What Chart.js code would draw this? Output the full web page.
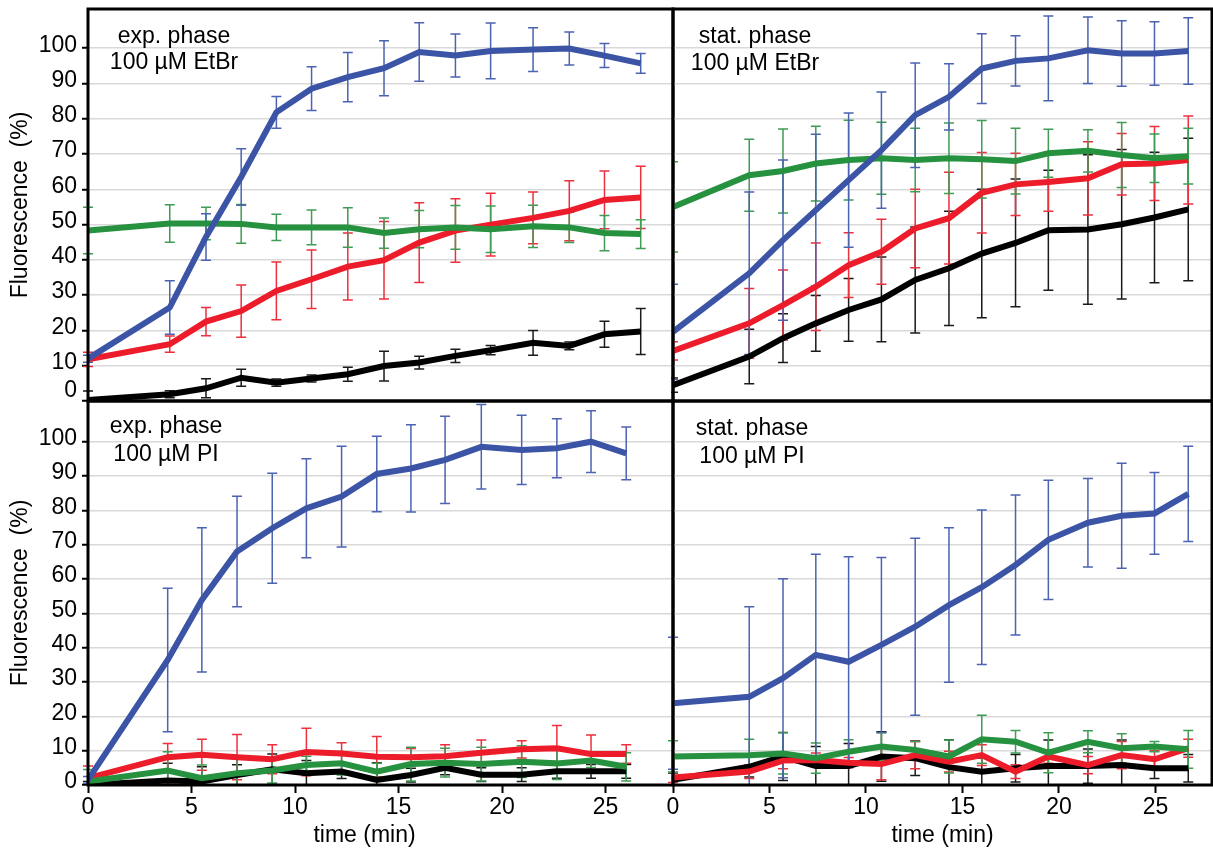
<!DOCTYPE html>
<html>
<head>
<meta charset="utf-8">
<script src="https://cdn.jsdelivr.net/npm/chart.js@4.4.1/dist/chart.umd.min.js"></script>
<style>
  body { margin: 0; background: #fff; width: 1213px; height: 849px; position: relative; overflow: hidden; }
  canvas { position: absolute; }
</style>
</head>
<body>
<canvas id="tl" width="675" height="403" style="left:0;top:0"></canvas>
<canvas id="tr" width="542" height="403" style="left:671px;top:0"></canvas>
<canvas id="bl" width="675" height="454" style="left:0;top:395px"></canvas>
<canvas id="br" width="562" height="454" style="left:651px;top:395px"></canvas>
<script>
// time points (min)
const timesA = [0, 3.95, 5.7, 7.4, 9.1, 10.8, 12.55, 14.3, 16.0, 17.75, 19.45, 21.5, 23.25, 24.95, 26.7];
const timesB = [0, 3.85, 5.5, 7.2, 8.9, 10.55, 12.25, 13.95, 15.6, 17.25, 19.0, 20.95, 22.65, 24.3, 26.0];

// exp. phase, 100 µM EtBr
const expEtBrBlue  = [12, 26.5, 46.5, 63.5, 81.8, 88.5, 91.8, 94.3, 98.9, 97.9, 99.2, 99.6, 99.9, 97.9, 95.7];
const expEtBrBlueErr  = [1, 7.6, 6.6, 8, 4.5, 6.2, 7, 7.8, 8.3, 6.1, 7.9, 6.2, 4.7, 3.4, 2.8];
const expEtBrGreen = [48.3, 50.3, 50.3, 50.2, 49.2, 49.2, 49.2, 47.6, 48.7, 49.2, 48.7, 49.5, 49.2, 47.6, 47.3];
const expEtBrGreenErr = [6.6, 5.3, 4.6, 5.5, 3.7, 4.9, 5.6, 4.3, 5.3, 6.2, 6.6, 6, 4.3, 5, 4.1];
const expEtBrRed   = [11.8, 16.1, 22.5, 25.5, 31.2, 34.5, 38.1, 39.9, 44.9, 48.3, 50, 51.9, 53.9, 57, 57.7];
const expEtBrRedErr   = [2, 2.3, 4, 7.4, 8.2, 8.3, 9.5, 11, 11.3, 9, 8.9, 7.3, 8.5, 8.2, 8.8];
const expEtBrBlack = [0.3, 1.9, 3.6, 6.6, 5.2, 6.4, 7.6, 9.9, 10.9, 12.8, 14.4, 16.5, 15.6, 18.9, 19.7];
const expEtBrBlackErr = [2.5, 1, 2.7, 2.4, 1, 1, 2, 4.2, 1.8, 1.9, 1.3, 3.5, 1.1, 3.7, 6.5];

// stat. phase, 100 µM EtBr
const statEtBrBlue  = [19.6, 36.2, 45.6, 54.1, 62.6, 71.1, 81, 86.2, 94.2, 96.4, 97.1, 99.4, 98.5, 98.5, 99.2];
const statEtBrBlueErr  = [13.5, 23, 22.7, 21.5, 19, 16.5, 14.8, 9.4, 9.9, 7.1, 12, 9.4, 9.3, 9, 9.4];
const statEtBrGreen = [55, 64, 65.2, 67.3, 68.3, 68.8, 68.3, 68.8, 68.5, 68, 70.2, 70.9, 69.7, 68.8, 69.4];
const statEtBrGreenErr = [12.8, 10.2, 11.9, 10.6, 11.3, 10.2, 9, 10, 11, 9.3, 6.8, 6, 9.2, 6.9, 7.9];
const statEtBrRed   = [14.2, 22, 27.2, 32.4, 38.5, 42.3, 48.9, 51.8, 59, 61.4, 62.1, 63.1, 67.1, 67.3, 68.3];
const statEtBrRedErr   = [2.6, 9.9, 9.9, 12.4, 9.2, 9.2, 11.1, 13, 11.4, 8.8, 8.3, 10.4, 8.7, 10.5, 12.5];
const statEtBrBlack = [4.5, 12.6, 17.8, 22, 25.8, 28.8, 34.3, 37.6, 41.8, 44.8, 48.4, 48.6, 50.1, 52, 54.3];
const statEtBrBlackErr = [2, 7.7, 6.9, 7.9, 8.9, 12, 15, 16.2, 18.2, 18.1, 17, 21.2, 21.2, 18.5, 20.2];

// exp. phase, 100 µM PI
const expPIBlue  = [1.5, 36.4, 53.9, 68, 74.8, 80.6, 84, 90.6, 92.2, 94.7, 98.5, 97.6, 98.1, 100, 96.6];
const expPIBlueErr  = [1, 20.9, 21, 16.1, 16, 14.4, 14.7, 11, 12.7, 12.7, 12.3, 10.1, 8.6, 9, 7.7];
const expPIGreen = [1, 4.2, 2, 3.4, 4.2, 5.8, 6.3, 3.9, 6.1, 6.5, 6.1, 6.8, 6.3, 7.1, 5.3];
const expPIGreenErr = [3.5, 5.5, 3.8, 4.7, 3.6, 2.6, 3.4, 2.4, 4.9, 4.2, 4.9, 4.6, 4.7, 2, 4.1];
const expPIRed   = [2, 8.1, 8.8, 8.1, 7.5, 9.6, 9.2, 8.2, 8.1, 8.4, 9.4, 10.4, 10.7, 9, 9];
const expPIRedErr   = [3.5, 4, 4.5, 6.6, 4.2, 6.9, 3.1, 5.9, 2.5, 3.3, 3.7, 2.5, 6.6, 5.6, 2.7];
const expPIBlack = [0, 1.3, 1, 2.9, 4.6, 3.4, 3.9, 1.5, 2.9, 5, 3, 3, 4, 4, 4];
const expPIBlackErr = [1, 5, 4.3, 3, 4.4, 3.7, 2, 5, 2, 2, 2, 2, 2, 2, 2];

// stat. phase, 100 µM PI
const statPIBlue  = [23.8, 25.7, 31.1, 37.9, 35.9, 40.8, 46.1, 52.4, 57.6, 64.1, 71.4, 76.4, 78.4, 79.1, 84.8];
const statPIBlueErr  = [19.2, 26.2, 29, 29.3, 30.6, 25.5, 25.8, 22.5, 22.5, 20.4, 17.4, 12.9, 15.3, 11.9, 13.9];
const statPIGreen = [8.3, 8.7, 9.2, 7.8, 9.7, 11.2, 10.2, 8.3, 13.3, 12.6, 9.4, 12.6, 10.7, 11.2, 10.4];
const statPIGreenErr = [4.6, 4.6, 6, 4.4, 3.5, 4, 2.5, 4.8, 7, 3.3, 5.8, 3.2, 4.2, 1.5, 5.5];
const statPIRed   = [2.2, 3.9, 7.1, 7.3, 6.5, 6.1, 8.7, 6.8, 8.7, 3.9, 8.3, 5.8, 8.7, 7.5, 10.7];
const statPIRedErr   = [1.5, 2, 2.4, 2, 1.5, 4.6, 4, 3, 3, 2, 2, 2.5, 4, 2.5, 2.6];
const statPIBlack = [1.5, 5.3, 8.3, 5.5, 5.5, 8.3, 7.8, 5.2, 3.9, 4.9, 5.5, 5.5, 5.8, 4.9, 4.9];
const statPIBlackErr = [2, 3, 7, 5.7, 6.6, 7.2, 5, 8, 4, 4, 7.6, 5, 7.3, 3, 4];

const BLUE = '#3b54a5', GREEN = '#26913f', RED = '#ed1c2a', BLACK = '#000000';
const ERR = { [BLUE]: '#4b63b2', [GREEN]: '#3e9c55', [RED]: '#ee2f3c', [BLACK]: '#1a1a1a' };

Chart.defaults.font.family = '"Liberation Sans", Arial, sans-serif';
Chart.defaults.font.size = 23;
Chart.defaults.color = '#000';

// error bars, drawn under the lines
const errorBars = {
  id: 'errorBars',
  beforeDatasetsDraw(chart) {
    const { ctx, chartArea: a, scales: { x, y } } = chart;
    ctx.save();
    ctx.beginPath();
    ctx.rect(a.left - 6, a.top, a.right - a.left + 12, a.bottom - a.top);
    ctx.clip();
    ctx.lineWidth = 1.5;
    chart.data.datasets.slice().reverse().forEach(ds => {
      ctx.strokeStyle = ERR[ds.borderColor];
      ds.data.forEach((p, i) => {
        const e = ds.errors[i];
        const px = x.getPixelForValue(p.x);
        const y1 = y.getPixelForValue(p.y + e), y2 = y.getPixelForValue(p.y - e);
        ctx.beginPath();
        ctx.moveTo(px, y1); ctx.lineTo(px, y2);
        ctx.moveTo(px - 5, y1); ctx.lineTo(px + 5, y1);
        ctx.moveTo(px - 5, y2); ctx.lineTo(px + 5, y2);
        ctx.stroke();
      });
    });
    ctx.restore();
  }
};

const frame = {
  id: 'frame',
  afterDraw(chart, args, opts) {
    const { ctx, chartArea: a } = chart;
    ctx.save();
    ctx.strokeStyle = '#000';
    ctx.lineWidth = 3;
    ctx.strokeRect(a.left, a.top, a.right - a.left, a.bottom - a.top);
    ctx.font = '23px "Liberation Sans", Arial, sans-serif';
    ctx.fillStyle = '#000';
    ctx.textAlign = 'center';
    ctx.textBaseline = 'alphabetic';
    opts.lines.forEach((t, i) => ctx.fillText(t, a.left + opts.dx, a.top + opts.dy[i]));
    ctx.restore();
  }
};

function series(times, vals, errs, color, order) {
  return {
    data: times.map((t, i) => ({ x: t, y: vals[i] })),
    errors: errs,
    borderColor: color,
    backgroundColor: color,
    borderWidth: 6,
    pointRadius: 0,
    tension: 0,
    order: order
  };
}

function panel(id, times, sets, o) {
  new Chart(document.getElementById(id), {
    type: 'line',
    data: {
      datasets: [
        series(times, sets[0], sets[1], BLUE, 0),
        series(times, sets[2], sets[3], GREEN, 1),
        series(times, sets[4], sets[5], RED, 2),
        series(times, sets[6], sets[7], BLACK, 3)
      ]
    },
    options: {
      responsive: false,
      animation: false,
      events: [],
      layout: { padding: o.pad },
      plugins: {
        legend: { display: false },
        tooltip: { enabled: false },
        frame: { lines: o.lines, dx: o.dx, dy: o.dy }
      },
      scales: {
        x: {
          type: 'linear', min: 0, max: o.xmax,
          border: { display: false },
          grid: { display: o.showX, drawOnChartArea: false, tickLength: 8, tickColor: '#000', tickWidth: 2 },
          ticks: { display: o.showX, stepSize: 5, padding: 1, maxRotation: 0, includeBounds: false, autoSkip: false },
          afterBuildTicks: s => { s.ticks = s.ticks.filter(t => t.value % 5 === 0); },
          afterFit: s => { s.height = o.xh; s.paddingLeft = 0; s.paddingRight = 0; },
          title: { display: o.showX, text: o.xTitle, padding: { top: 0, bottom: 0 } }
        },
        y: {
          min: 0, max: o.ymax,
          border: { display: false },
          grid: { color: '#d9d9d9', lineWidth: 1.5, drawTicks: o.showY, tickLength: 6, tickColor: '#000', tickWidth: 2 },
          ticks: {
            display: o.showY, stepSize: 10, padding: 5, labelOffset: -3, includeBounds: false, autoSkip: false,
            // the zero label of the upper panel sits above the panel divider
            callback: v => (o.lift0 && v === 0) ? ['0', ''] : v,
            font: c => (o.lift0 && c.tick && c.tick.value === 0) ? { size: 23, lineHeight: 0.6 } : { size: 23 }
          },
          afterBuildTicks: s => { s.ticks = s.ticks.filter(t => t.value <= 100 && t.value % 10 === 0); },
          afterFit: s => { s.width = o.yw; s.paddingTop = 0; s.paddingBottom = 0; },
          title: { display: o.showY, text: 'Fluorescence  (%)', padding: { top: 7, bottom: 0 } }
        }
      }
    },
    plugins: [errorBars, frame]
  });
}

panel('tl', timesA,
  [expEtBrBlue, expEtBrBlueErr, expEtBrGreen, expEtBrGreenErr, expEtBrRed, expEtBrRedErr, expEtBrBlack, expEtBrBlackErr],
  { pad: { top: 9, right: 2, left: 0, bottom: 0 }, xmax: 28.26, ymax: 111.1, xh: 2, yw: 88, showX: false, showY: true, lift0: true,
    lines: ['exp. phase', '100 µM EtBr'], dx: 86, dy: [34, 60] });

panel('tr', timesA,
  [statEtBrBlue, statEtBrBlueErr, statEtBrGreen, statEtBrGreenErr, statEtBrRed, statEtBrRedErr, statEtBrBlack, statEtBrBlackErr],
  { pad: { top: 9, right: 1, left: 2, bottom: 0 }, xmax: 27.93, ymax: 111.1, xh: 2, yw: 0, showX: false, showY: false,
    lines: ['stat. phase', '100 µM EtBr'], dx: 82, dy: [34, 61] });

panel('bl', timesB,
  [expPIBlue, expPIBlueErr, expPIGreen, expPIGreenErr, expPIRed, expPIRedErr, expPIBlack, expPIBlackErr],
  { pad: { top: 6, right: 2, left: 0, bottom: 0 }, xmax: 28.26, ymax: 111.85, xh: 64, yw: 88, showX: true, showY: true,
    xTitle: 'time (min)     ',
    lines: ['exp. phase', '100 µM PI'], dx: 78, dy: [32, 60] });

panel('br', timesA,
  [statPIBlue, statPIBlueErr, statPIGreen, statPIGreenErr, statPIRed, statPIRedErr, statPIBlack, statPIBlackErr],
  { pad: { top: 6, right: 1, left: 22, bottom: 0 }, xmax: 27.93, ymax: 111.85, xh: 64, yw: 0, showX: true, showY: false,
    xTitle: 'time (min)',
    lines: ['stat. phase', '100 µM PI'], dx: 79, dy: [34, 62] });
</script>
</body>
</html>
